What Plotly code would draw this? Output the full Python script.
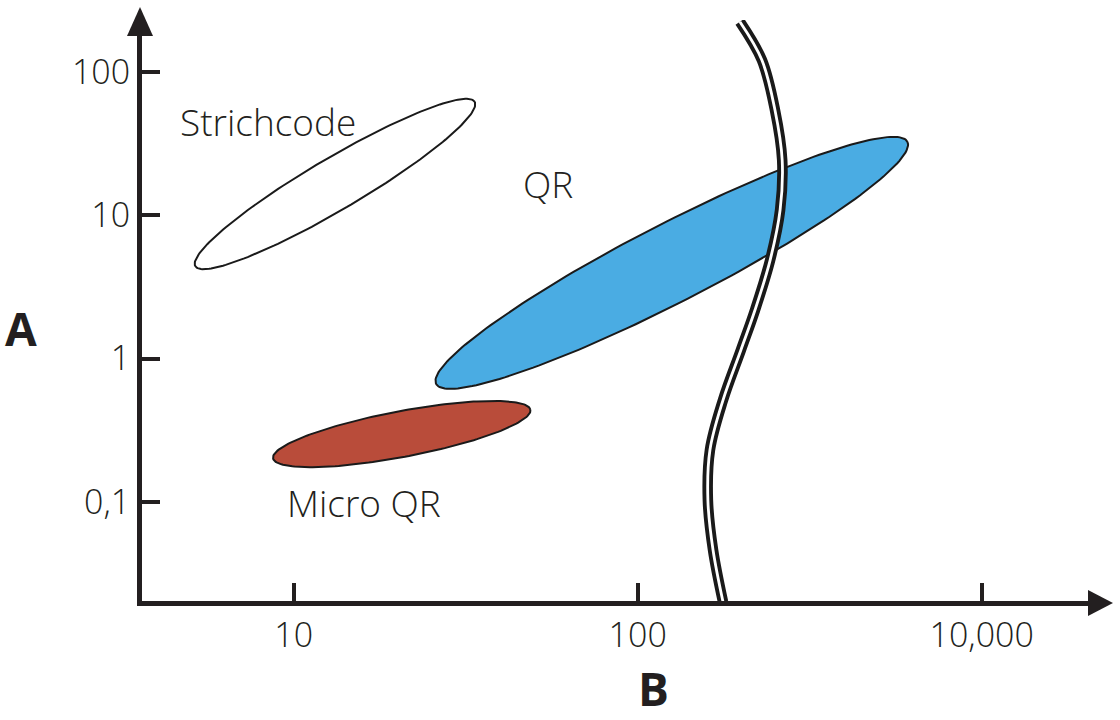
import numpy as np
import plotly.graph_objects as go

# ---------------- data ----------------
# x axis: schematic positions 1, 2, 3 labelled 10, 100, 10,000
x_tick_pos = [1, 2, 3]
x_tick_text = ["10", "100", "10,000"]
y_tick_vals = [0.1, 1, 10, 100]
y_tick_text = ["0,1", "1", "10", "100"]

# ellipses: major-axis tips (x in axis units, y in values) and minor/major ratio
region_names = ["Micro QR", "QR", "Strichcode"]
tip_left_x = [0.940, 1.414, 0.714]
tip_left_y = [0.201, 0.665, 4.41]
tip_right_x = [1.688, 2.784, 1.526]
tip_right_y = [0.439, 32.6, 62.0]
width_ratio = [0.175, 0.148, 0.16]
fill_colors = ["#b94c3a", "#4aace3", "#ffffff"]

# region labels
label_text = ["Strichcode", "QR", "Micro QR"]
label_x = [0.925, 1.739, 1.204]
label_y = [45.5, 16.8, 0.0996]

# axis break line (schematic)
break_x = [2.297, 2.361, 2.399, 2.420, 2.414, 2.385, 2.341, 2.300, 2.248,
           2.210, 2.204, 2.219, 2.248]
break_y = [224.5, 121.3, 54.3, 24.3, 10.9, 4.87, 2.18, 1.147, 0.513,
           0.230, 0.1029, 0.0461, 0.0200]

# ---------------- layout constants ----------------
W, H = 1120, 720
ML, MR, MT, MB = 142, 30, 20, 119
PW, PH = W - ML - MR, H - MT - MB
XR = [0.559, 3.3148]
YR = [-1.6927, 2.3632]  # log10 range
INK = "#231f20"
FONT = "Open Sans"

sx = PW / (XR[1] - XR[0])
sy = PH / (YR[1] - YR[0])


def ellipse(x0, y0, x1, y1, ratio, n=200):
    X0, Y0 = x0 * sx, np.log10(y0) * sy
    X1, Y1 = x1 * sx, np.log10(y1) * sy
    cx, cy = (X0 + X1) / 2, (Y0 + Y1) / 2
    a = np.hypot(X1 - X0, Y1 - Y0) / 2
    b = a * ratio
    th = np.arctan2(Y1 - Y0, X1 - X0)
    t = np.linspace(0, 2 * np.pi, n)
    ex = cx + a * np.cos(t) * np.cos(th) - b * np.sin(t) * np.sin(th)
    ey = cy + a * np.cos(t) * np.sin(th) + b * np.sin(t) * np.cos(th)
    return ex / sx, 10 ** (ey / sy)


fig = go.Figure()

for i, name in enumerate(region_names):
    ex, ey = ellipse(tip_left_x[i], tip_left_y[i], tip_right_x[i],
                     tip_right_y[i], width_ratio[i])
    fig.add_trace(go.Scatter(x=ex, y=ey, mode="lines", fill="toself",
                             fillcolor=fill_colors[i],
                             line=dict(color="#1a1a1a", width=2),
                             name=name, hoverinfo="name"))

# break line: black band with white centre
fig.add_trace(go.Scatter(x=break_x, y=break_y, mode="lines",
                         line=dict(color="#1a1a1a", width=10.5, shape="spline"),
                         hoverinfo="skip"))
fig.add_trace(go.Scatter(x=break_x, y=break_y, mode="lines",
                         line=dict(color="#ffffff", width=2.8, shape="spline"),
                         hoverinfo="skip"))

for t, x, y in zip(label_text, label_x, label_y):
    fig.add_annotation(x=x, y=np.log10(y), xref="x", yref="y", text=t,
                       showarrow=False, xanchor="center", yanchor="middle",
                       font=dict(family=FONT, size=37, color=INK, weight=300))


def px(xp):
    return (xp - ML) / PW


def py(yp):
    return (H - MB - yp) / PH


# axis titles
fig.add_annotation(x=px(21), y=py(328), xref="paper", yref="paper", text="A",
                   showarrow=False, xanchor="center", yanchor="middle",
                   font=dict(family=FONT, size=46, color=INK, weight=700))
fig.add_annotation(x=px(653), y=py(688), xref="paper", yref="paper", text="B",
                   showarrow=False, xanchor="center", yanchor="middle",
                   font=dict(family=FONT, size=46, color=INK, weight=700))

# arrowheads
fig.add_shape(type="path", xref="paper", yref="paper",
              path=f"M {px(127)} {py(36)} L {px(140)} {py(7)} L {px(153)} {py(36)} Z",
              fillcolor=INK, line=dict(width=0), layer="above")
fig.add_shape(type="path", xref="paper", yref="paper",
              path=f"M {px(1088)} {py(590)} L {px(1113)} {py(603)} L {px(1088)} {py(616)} Z",
              fillcolor=INK, line=dict(width=0), layer="above")

axis_font = dict(family=FONT, size=34, color=INK, weight=300)
fig.update_layout(
    width=W, height=H,
    margin=dict(l=ML, r=MR, t=MT, b=MB),
    paper_bgcolor="white", plot_bgcolor="white",
    showlegend=False,
    xaxis=dict(range=XR, tickvals=x_tick_pos, ticktext=x_tick_text,
               showline=True, linecolor=INK, linewidth=5,
               ticks="inside", ticklen=18, tickwidth=4, tickcolor=INK,
               showgrid=False, zeroline=False, tickfont=axis_font),
    yaxis=dict(type="log", range=YR, tickvals=y_tick_vals,
               ticktext=y_tick_text,
               showline=True, linecolor=INK, linewidth=5,
               ticks="inside", ticklen=18, tickwidth=4, tickcolor=INK,
               showgrid=False, zeroline=False, tickfont=axis_font),
)

fig.write_html("out.html", config={"displayModeBar": False},
               post_script="document.body.style.margin='0';")
